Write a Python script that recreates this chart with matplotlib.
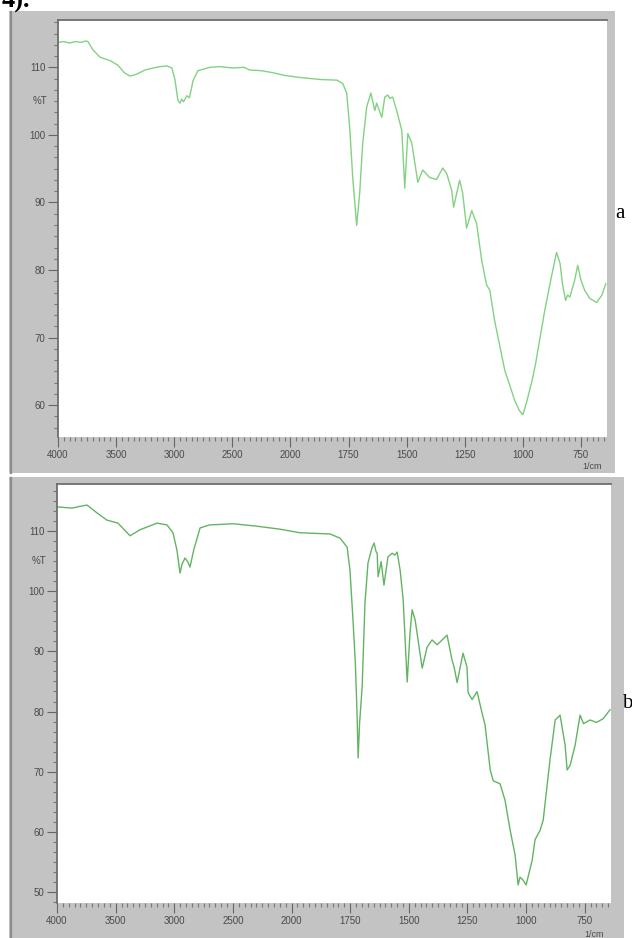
import numpy as np
import matplotlib
matplotlib.use("Agg")
import matplotlib.pyplot as plt
from matplotlib.patches import Rectangle
from matplotlib.lines import Line2D
from matplotlib.ticker import FixedLocator, MultipleLocator, AutoMinorLocator

# spectrum a (wavenumber 1/cm, %T)
wn_a = [4000, 3950, 3900, 3850, 3800, 3760, 3742, 3700, 3639, 3553, 3484, 3430, 3381,
        3320, 3252, 3180, 3123, 3063, 3020, 2994, 2968, 2951, 2935, 2920, 2891, 2870,
        2850, 2839, 2796, 2693, 2607, 2500, 2400, 2350, 2250, 2150, 2050, 1960, 1874,
        1800, 1775, 1758, 1745, 1732, 1715, 1702, 1689, 1672, 1654, 1637, 1629, 1607,
        1594, 1581, 1573, 1560, 1543, 1521, 1508, 1495, 1478, 1452, 1431, 1401, 1371,
        1345, 1328, 1306, 1298, 1272, 1259, 1242, 1220, 1199, 1177, 1156, 1142, 1122,
        1078, 1035, 1015, 1000, 985, 960, 945, 906, 876, 855, 840, 829, 816, 808, 798,
        777, 764, 750, 734, 712, 682, 660, 643]
t_a = [113.7, 113.8, 113.6, 113.8, 113.7, 113.9, 113.8, 112.6, 111.5, 111.0, 110.3, 109.2, 108.7,
       109.0, 109.6, 109.9, 110.1, 110.2, 109.9, 108.2, 105.1, 104.7, 105.3, 104.9, 105.8, 105.5,
       107.0, 108.0, 109.5, 110.0, 110.1, 109.9, 110.0, 109.6, 109.5, 109.2, 108.8, 108.5, 108.2,
       108.1, 107.6, 106.2, 101.1, 93.7, 86.6, 91.4, 98.8, 104.1, 106.2, 103.6, 104.7, 102.6,
       105.6, 105.9, 105.4, 105.6, 103.6, 100.7, 92.1, 100.2, 98.8, 93.0, 94.8, 93.7, 93.4,
       95.1, 94.3, 91.8, 89.3, 93.3, 91.4, 86.2, 88.8, 86.9, 81.4, 77.8, 77.0, 72.6,
       65.2, 60.7, 59.2, 58.6, 60.3, 63.7, 66.2, 74.0, 79.2, 82.6, 81.0, 77.8, 75.5, 76.3, 76.0,
       78.5, 80.7, 78.5, 77.0, 75.8, 75.2, 76.3, 78.0]

# spectrum b
wn_b = [4000, 3872, 3800, 3744, 3659, 3574, 3480, 3377, 3292, 3147, 3062, 3011, 2977, 2951,
        2934, 2908, 2883, 2866, 2832, 2780, 2700, 2500, 2300, 2100, 1964, 1836, 1793, 1763,
        1751, 1738, 1728, 1721, 1716, 1710, 1699, 1687, 1674, 1657, 1648, 1640, 1635, 1631,
        1618, 1606, 1589, 1571, 1559, 1550, 1537, 1524, 1507, 1495, 1486, 1473, 1443, 1422,
        1401, 1379, 1337, 1316, 1307, 1294, 1269, 1252, 1247, 1230, 1209, 1188, 1175, 1153,
        1140, 1111, 1090, 1068, 1047, 1034, 1026, 1013, 1000, 974, 962, 940, 927, 898, 876,
        855, 834, 825, 812, 791, 770, 755, 727, 700, 672, 642]
t_b = [114.0, 113.8, 114.1, 114.3, 113.0, 111.8, 111.3, 109.2, 110.2, 111.3, 111.0, 109.7, 106.8, 103.0,
       104.5, 105.5, 104.8, 104.0, 107.0, 110.5, 111.0, 111.2, 110.8, 110.3, 109.7, 109.5, 108.8, 107.3,
       103.5, 95.2, 88.0, 80.0, 72.3, 78.0, 84.1, 98.0, 104.7, 107.2, 108.0, 106.6, 106.3, 102.4,
       104.9, 101.0, 105.7, 106.3, 106.0, 106.5, 103.5, 98.5, 84.9, 93.0, 96.9, 95.2, 87.2, 90.7,
       91.9, 91.1, 92.7, 88.6, 87.4, 84.8, 89.7, 87.4, 83.1, 82.0, 83.3, 79.8, 77.8, 70.3,
       68.5, 68.0, 65.3, 60.3, 56.2, 51.2, 52.5, 52.0, 51.2, 55.3, 58.7, 60.3, 62.0, 72.0, 78.6,
       79.4, 74.5, 70.3, 71.1, 74.4, 79.4, 78.0, 78.6, 78.2, 78.8, 80.3]

x_major = [4000, 3500, 3000, 2500, 2000, 1750, 1500, 1250, 1000, 750]
x_minor = list(range(4000, 2000, -50)) + list(range(2000, 625, -25))

W, H = 632, 938


def fr(x0, y0, x1, y1):
    return [x0 / W, 1 - y1 / H, (x1 - x0) / W, (y1 - y0) / H]


# Shimadzu style axis: below 2000 1/cm the scale is doubled
def fwd(x):
    x = np.asarray(x, dtype=float)
    return np.where(x >= 2000, x, 2 * x - 2000)


def inv(u):
    u = np.asarray(u, dtype=float)
    return np.where(u >= 2000, u, (u + 2000) / 2)


fig = plt.figure(figsize=(W / 100, H / 100), dpi=100)
fig.patch.set_facecolor("white")

gray = "#c3c3c3"
tcol = "#4a4a4a"


def panel(frame, box, wn, t, ylim, yticks, color, tag, tagpos, cm_pos):
    fig.add_artist(Rectangle((frame[0] / W, 1 - frame[3] / H),
                             (frame[2] - frame[0]) / W, (frame[3] - frame[1]) / H,
                             transform=fig.transFigure, facecolor=gray, edgecolor="none", zorder=0))
    fig.add_artist(Line2D([(frame[0] + 2) / W] * 2, [1 - frame[3] / H, 1 - (frame[1] + 1) / H],
                          transform=fig.transFigure, color="#8c8c8c", lw=1.6, zorder=1))
    ax = fig.add_axes(fr(*box))
    ax.set_facecolor("white")
    ax.plot(wn, t, color=color, lw=1.0)
    ax.set_xscale("function", functions=(fwd, inv))
    ax.set_xlim(4000, 638)
    ax.set_ylim(*ylim)
    ax.xaxis.set_major_locator(FixedLocator(x_major))
    ax.xaxis.set_minor_locator(FixedLocator(x_minor))
    ax.set_xticklabels([str(v) for v in x_major])
    ax.yaxis.set_major_locator(FixedLocator(yticks))
    ax.yaxis.set_minor_locator(AutoMinorLocator(6))
    ax.tick_params(which="major", length=7, width=0.8, color="#666666",
                   labelsize=7, labelcolor=tcol, pad=2)
    ax.tick_params(which="minor", length=3, width=0.8, color="#777777")
    for lab in ax.get_xticklabels() + ax.get_yticklabels():
        lab.set_fontfamily("Liberation Sans")
    for s in ["bottom", "right"]:
        ax.spines[s].set_visible(False)
    for s in ["left", "top"]:
        ax.spines[s].set_color("#6e6e6e")
        ax.spines[s].set_linewidth(1.3)
    ax.text(-0.02, 105, "%T", transform=ax.get_yaxis_transform(), ha="right", va="center",
            fontsize=7, color=tcol, family="Liberation Sans")
    fig.text(cm_pos[0] / W, 1 - cm_pos[1] / H, "1/cm", ha="center", va="center",
             fontsize=6.5, color=tcol, family="Liberation Sans")
    fig.text(tagpos[0] / W, 1 - tagpos[1] / H, tag, ha="center", va="center",
             fontsize=15, color="black", family="Liberation Serif")
    return ax


panel((9, 11, 615, 473), (58, 20, 607, 437), wn_a, t_a, (55.3, 117.0),
      [60, 70, 80, 90, 100, 110], "#82d282", "a", (620, 213), (592, 466))
panel((9, 477, 624, 938), (57, 484, 611, 903), wn_b, t_b, (48.2, 117.8),
      [50, 60, 70, 80, 90, 100, 110], "#62b462", "b", (627, 703), (594, 934))

fig.text(2 / W, 1 - 8 / H, "4).", ha="left", va="baseline", fontsize=19,
         fontweight="bold", family="Liberation Serif")

fig.savefig("out.png", dpi=100)
